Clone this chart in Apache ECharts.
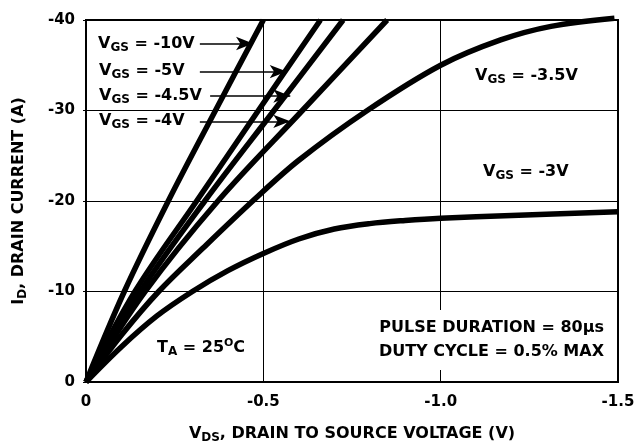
<!DOCTYPE html>
<html>
<head>
<meta charset="utf-8">
<script src="https://cdn.jsdelivr.net/npm/echarts@6/dist/echarts.min.js"></script>
<style>
  html, body { margin: 0; padding: 0; background: #fff; }
  #chart { width: 634px; height: 445px; }
</style>
</head>
<body>
<div id="chart"></div>
<script>
// curves: [VDS (V), ID (A)]
var vgs10  = [[0, 0], [-0.108, -10], [-0.232, -20], [-0.365, -30], [-0.5, -40]];
var vgs5   = [[0, 0], [-0.138, -10], [-0.312, -20], [-0.486, -30], [-0.661, -40]];
var vgs4_5 = [[0, 0], [-0.153, -10], [-0.335, -20], [-0.53, -30], [-0.725, -40]];
var vgs4   = [[0, 0], [-0.167, -10], [-0.372, -20], [-0.61, -30], [-0.849, -40]];
var vgs3_5 = [[0, 0], [-0.1, -5.2], [-0.205, -10], [-0.33, -14.8], [-0.47, -20], [-0.6, -24.5],
              [-0.793, -30], [-1.0, -35], [-1.169, -37.8], [-1.311, -39.3], [-1.49, -40.2]];
var vgs3   = [[0, 0], [-0.1, -3.9], [-0.2, -7.3], [-0.3, -10.0], [-0.4, -12.3], [-0.5, -14.2],
              [-0.6, -15.8], [-0.7, -16.9], [-0.8, -17.5], [-0.9, -17.85], [-1.0, -18.1],
              [-1.2, -18.4], [-1.5, -18.8]];

// arrows from the labels to their curves: [from, tip]
var arrow10  = [[-0.321, -37.4], [-0.471, -37.4]];
var arrow5   = [[-0.321, -34.3], [-0.566, -34.3]];
var arrow4_5 = [[-0.35, -31.6], [-0.576, -31.6]];
var arrow4   = [[-0.321, -28.8], [-0.576, -28.8]];

var FONT = 'DejaVu Sans';

var rich = {
    n: { fontFamily: FONT, fontWeight: 'bold', fontSize: 16, lineHeight: 20, color: '#000' },
    s: { fontFamily: FONT, fontWeight: 'bold', fontSize: 12, lineHeight: 12, verticalAlign: 'bottom', color: '#000' },
    p: { fontFamily: FONT, fontWeight: 'bold', fontSize: 11, lineHeight: 11, verticalAlign: 'top', color: '#000' }
};

function arrowLine(a) {
    return {
        silent: true,
        symbol: ['none', 'arrow'],
        label: { show: false },
        lineStyle: { color: '#000', width: 1.5, type: 'solid' },
        emphasis: { disabled: true },
        data: [[
            { coord: a[0], symbol: 'none' },
            { coord: a[1], symbol: 'arrow', symbolSize: [10, 17] }
        ]]
    };
}

function curve(name, data, arrow) {
    var s = {
        name: name,
        type: 'line',
        data: data,
        smooth: 0.35,
        symbol: 'none',
        clip: false,
        lineStyle: { color: '#000', width: 5.5, cap: 'butt' },
        emphasis: { disabled: true }
    };
    if (arrow) s.markLine = arrowLine(arrow);
    return s;
}

function label(x, y, text) {
    return {
        type: 'text', x: x, y: y, z: 100, silent: true,
        style: { text: text, rich: rich, fill: '#000', align: 'left', verticalAlign: 'middle' }
    };
}

var chart = echarts.init(document.getElementById('chart'));

chart.setOption({
    animation: false,
    grid: {
        left: 86, right: 16, top: 20, bottom: 63, outerBoundsMode: 'none',
        show: true, borderColor: '#000', borderWidth: 2
    },
    xAxis: {
        type: 'value', min: -1.5, max: 0, interval: 0.5, inverse: true,
        name: '{n|V}{s|DS}{n|, DRAIN TO SOURCE VOLTAGE (V)}',
        nameLocation: 'middle', nameGap: 42,
        nameTextStyle: { rich: rich },
        axisLine: { lineStyle: { color: '#000', width: 2 } },
        axisTick: { show: false },
        axisLabel: {
            margin: 13, color: '#000', fontFamily: FONT, fontWeight: 'bold', fontSize: 15,
            formatter: function (v) { return v === 0 ? '0' : v.toFixed(1); }
        },
        splitLine: { lineStyle: { color: '#000', width: 1 } }
    },
    yAxis: {
        type: 'value', min: -40, max: 0, interval: 10, inverse: true,
        name: '{n|I}{s|D}{n|, DRAIN CURRENT (A)}',
        nameLocation: 'middle', nameGap: 57, nameRotate: 90,
        nameTextStyle: { rich: rich },
        axisLine: { lineStyle: { color: '#000', width: 2 } },
        axisTick: { show: true, length: 3, lineStyle: { color: '#000' } },
        axisLabel: { margin: 11, color: '#000', fontFamily: FONT, fontWeight: 'bold', fontSize: 15 },
        splitLine: { lineStyle: { color: '#000', width: 1 } }
    },
    series: [
        curve('-10V', vgs10, arrow10),
        curve('-5V', vgs5, arrow5),
        curve('-4.5V', vgs4_5, arrow4_5),
        curve('-4V', vgs4, arrow4),
        curve('-3.5V', vgs3_5),
        curve('-3V', vgs3)
    ],
    graphic: [
        label(98, 44, '{n|V}{s|GS}{n| = -10V}'),
        label(99, 71, '{n|V}{s|GS}{n| = -5V}'),
        label(99, 96, '{n|V}{s|GS}{n| = -4.5V}'),
        label(99, 121, '{n|V}{s|GS}{n| = -4V}'),
        label(475, 76, '{n|V}{s|GS}{n| = -3.5V}'),
        label(483, 172, '{n|V}{s|GS}{n| = -3V}'),
        label(157, 348, '{n|T}{s|A}{n| = 25}{p|O}{n|C}'),
        {
            type: 'text', x: 607, y: 340, z: 100, silent: true,
            style: {
                text: 'PULSE DURATION = 80\u03bcs\nDUTY CYCLE = 0.5% MAX',
                fill: '#000', fontFamily: FONT, fontWeight: 'bold', fontSize: 16, lineHeight: 24,
                align: 'right', verticalAlign: 'middle',
                backgroundColor: '#fff', padding: [6, 3, 6, 3]
            }
        }
    ]
});
</script>
</body>
</html>
